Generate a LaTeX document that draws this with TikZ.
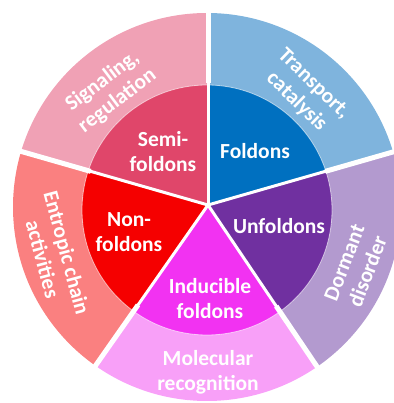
\documentclass[tikz,border=0pt]{standalone}
\usepackage{fontspec}
\setmainfont{Carlito}
\usetikzlibrary{calc}
\definecolor{inSemi}{RGB}{224,70,106}
\definecolor{outSemi}{RGB}{240,161,181}
\definecolor{inFold}{RGB}{0,112,192}
\definecolor{outFold}{RGB}{127,180,221}
\definecolor{inUnf}{RGB}{112,48,160}
\definecolor{outUnf}{RGB}{179,154,207}
\definecolor{inInd}{RGB}{242,50,242}
\definecolor{outInd}{RGB}{248,160,248}
\definecolor{inNon}{RGB}{245,0,0}
\definecolor{outNon}{RGB}{250,128,128}
\begin{document}
\begin{tikzpicture}[x=1pt,y=1pt,
  lbl/.style={text=white, font=\bfseries\fontsize{21.5}{25}\selectfont, align=center, inner sep=0pt},
  sepline/.style={white, line width=3pt},
  sepouter/.style={white, line width=5pt},
]
\useasboundingbox (0,0) rectangle (393,403);
\coordinate (oc) at (207,196);
\coordinate (ic) at (207,193);
\coordinate (j) at (208,198);
% slice: a1, a2, inner colour, outer colour
\foreach \aa/\ab/\ci/\co in {90/164/inSemi/outSemi, 16/90/inFold/outFold, -56/16/inUnf/outUnf, -125/-56/inInd/outInd, 164/235/inNon/outNon}{
  \pgfmathsetmacro{\am}{(\aa+\ab)/2}
  \begin{scope}
    \clip (j) -- ++(\aa:400) -- ($(j)+(\am:420)$) -- ($(j)+(\ab:400)$) -- cycle;
    \fill[\co] (oc) circle (194);
    \fill[\ci] (ic) circle (125);
  \end{scope}
}
\draw[white, opacity=0.6, line width=0.8pt] (ic) circle (125);
\foreach \a in {90,16,-56,-125,164}{
  \draw[sepline] (j) -- ++(\a:205);
  \draw[sepouter] (j) ++(\a:122) -- ++(\a:85);
}
% inner labels
\node[lbl] (semi) at (163,251) {Semi-\\foldons};
\node[lbl] (fold) at (255,252) {Foldons};
\node[lbl] (unf) at (279,177) {Unfoldons};
\node[lbl] (ind) at (210,104) {Inducible\\foldons};
\node[lbl] (non) at (129,171) {Non-\\foldons};
% outer labels
\node[lbl, rotate=37] (sig) at (110,312) {Signaling,\\regulation};
\node[lbl, rotate=-44] (tra) at (305,310) {Transport,\\catalysis};
\node[lbl, rotate=69] (dor) at (356,136) {Dormant\\disorder};
\node[lbl] (mol) at (208,31) {Molecular\\recognition};
\node[lbl, rotate=-75] (ent) at (55,147) {Entropic chain\\activities};
\end{tikzpicture}
\end{document}
